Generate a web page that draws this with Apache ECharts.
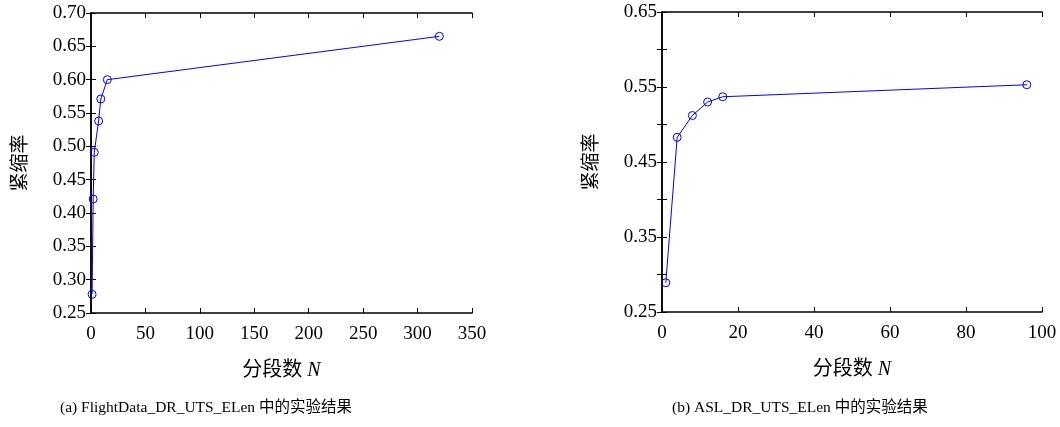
<!DOCTYPE html>
<html>
<head>
<meta charset="utf-8">
<script src="https://cdn.jsdelivr.net/npm/echarts@6/dist/echarts.min.js"></script>
<style>
html,body{margin:0;padding:0;background:#fff;}
#chart{width:1060px;height:427px;}
</style>
</head>
<body>
<div id="chart"></div>
<script>
// Data
var leftN = [1, 2, 3, 7, 9, 15, 320];
var leftRate = [0.278, 0.421, 0.491, 0.538, 0.571, 0.600, 0.665];
var rightN = [1, 4, 8, 12, 16, 96];
var rightRate = [0.289, 0.483, 0.512, 0.530, 0.537, 0.553];
var yAxisName = '紧缩率';
var xAxisNameText = '分段数 ';
var xAxisNameVar = 'N';
var captionA = '(a) FlightData_DR_UTS_ELen 中的实验结果';
var captionB = '(b) ASL_DR_UTS_ELen 中的实验结果';

var FONT = "'Liberation Serif', 'Noto Sans CJK SC', serif";
var chart = echarts.init(document.getElementById('chart'), null, {renderer: 'canvas'});

function pairs(xs, ys) { return xs.map(function (x, i) { return [x, ys[i]]; }); }

function axisLineStyle() { return {show: true, lineStyle: {color: '#000', width: 1.5}}; }
function tickIn() { return {show: true, inside: true, length: 5, lineStyle: {color: '#000', width: 1}}; }
var labelStyle = {color: '#000', fontFamily: FONT, fontSize: 19};

function xAxes(grid, max, interval) {
  return [
    {type: 'value', gridIndex: grid, position: 'bottom', min: 0, max: max, interval: interval,
     axisLine: axisLineStyle(), axisTick: tickIn(), splitLine: {show: false},
     axisLabel: Object.assign({margin: 12}, labelStyle),
     name: '{a|' + xAxisNameText + '}{b|' + xAxisNameVar + '}', nameLocation: 'middle', nameGap: 48,
     nameTextStyle: {rich: {
       a: {fontFamily: FONT, fontSize: 20, color: '#000'},
       b: {fontFamily: FONT, fontSize: 20, color: '#000', fontStyle: 'italic'}
     }}},
    {type: 'value', gridIndex: grid, position: 'top', min: 0, max: max, interval: interval,
     axisLine: axisLineStyle(), axisTick: tickIn(), splitLine: {show: false}, axisLabel: {show: false}}
  ];
}
function yAxes(grid, min, max, formatter) {
  return [
    {type: 'value', gridIndex: grid, position: 'left', min: min, max: max, interval: 0.05,
     axisLine: axisLineStyle(), axisTick: tickIn(), splitLine: {show: false},
     axisLabel: Object.assign({margin: 5, formatter: formatter}, labelStyle),
     name: yAxisName, nameLocation: 'middle', nameRotate: 90, nameGap: 60,
     nameTextStyle: {fontFamily: FONT, fontSize: 19, color: '#000'}},
    {type: 'value', gridIndex: grid, position: 'right', min: min, max: max, interval: 0.05,
     axisLine: axisLineStyle(), axisTick: tickIn(), splitLine: {show: false}, axisLabel: {show: false}}
  ];
}

var seriesStyle = {
  type: 'line',
  symbol: 'circle',
  symbolSize: 8,
  lineStyle: {color: '#0000ff', width: 1},
  itemStyle: {color: 'rgba(0,0,0,0)', borderColor: '#0000ff', borderWidth: 1},
  animation: false
};

var option = {
  backgroundColor: '#fff',
  animation: false,
  title: [
    {text: captionA, left: 55, top: 395, textStyle: {fontFamily: FONT, fontSize: 15.5, fontWeight: 'normal', color: '#000'}},
    {text: captionB, left: 667, top: 395, textStyle: {fontFamily: FONT, fontSize: 15.5, fontWeight: 'normal', color: '#000'}}
  ],
  grid: [
    {left: 91, top: 13, width: 381, height: 300},
    {left: 662, top: 12, width: 380, height: 300}
  ],
  xAxis: xAxes(0, 350, 50).concat(xAxes(1, 100, 20)),
  yAxis: yAxes(0, 0.25, 0.70, function (v) { return v.toFixed(2); })
    .concat(yAxes(1, 0.25, 0.65, function (v) {
      var k = Math.round(v * 100);
      return (k % 10 === 5) ? v.toFixed(2) : '';
    })),
  series: [
    Object.assign({xAxisIndex: 0, yAxisIndex: 0, data: pairs(leftN, leftRate)}, seriesStyle),
    Object.assign({xAxisIndex: 2, yAxisIndex: 2, data: pairs(rightN, rightRate)}, seriesStyle)
  ]
};
chart.setOption(option);
</script>
</body>
</html>
